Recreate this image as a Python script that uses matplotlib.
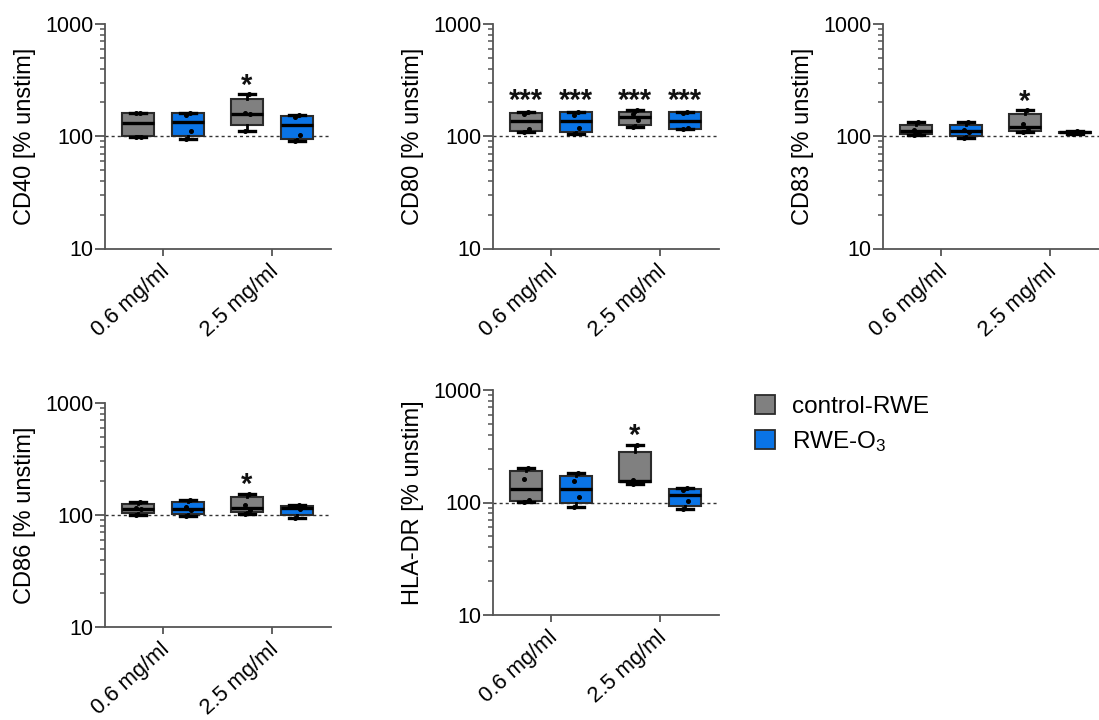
import matplotlib
matplotlib.use('Agg')
import matplotlib.pyplot as plt
import matplotlib.transforms as mtransforms
from matplotlib.patches import Patch
from matplotlib.ticker import FixedLocator, NullFormatter

plt.rcParams['font.family'] = ['Liberation Sans', 'DejaVu Sans']
plt.rcParams['mathtext.fontset'] = 'custom'
plt.rcParams['mathtext.rm'] = 'Liberation Sans'
plt.rcParams['mathtext.it'] = 'Liberation Sans:italic'

# ---------------- data ----------------
markers = ['CD40', 'CD80', 'CD83', 'CD86', 'HLA-DR']
doses = ['0.6 mg/ml', '2.5 mg/ml']
groups = ['control-RWE', 'RWE-O$_3$']
# box order in each panel: control 0.6, O3 0.6, control 2.5, O3 2.5
whis_lo = [[99, 94, 112, 90],
           [109, 104, 121, 115],
           [103, 96, 110, 105],
           [100, 97, 103, 95],
           [102, 92, 147, 88]]
q1 = [[100, 100, 126, 94],
      [111, 108, 127, 116],
      [105, 100, 112, 106],
      [104, 102, 106, 100],
      [104, 98, 151, 94]]
med = [[130, 135, 159, 127],
       [137, 137, 148, 137],
       [111, 111, 121, 108],
       [114, 114, 116, 116],
       [133, 133, 154, 116]]
q3 = [[160, 160, 215, 151],
      [160, 163, 166, 163],
      [127, 127, 157, 109],
      [126, 131, 144, 120],
      [190, 173, 280, 131]]
whis_hi = [[162, 161, 238, 154],
           [163, 166, 173, 166],
           [133, 133, 170, 111],
           [131, 137, 155, 122],
           [202, 184, 326, 135]]
points = [[[98, 99, 160, 162], [94, 112, 155, 161], [112, 158, 161, 238], [90, 103, 148, 154]],
          [[109, 115, 158, 163], [104, 119, 154, 166], [121, 139, 157, 173], [115, 119, 160, 166]],
          [[103, 108, 114, 133], [96, 109, 113, 133], [110, 114, 128, 170], [105, 107, 109, 111]],
          [[100, 112, 116, 131], [97, 110, 118, 137], [103, 110, 122, 155], [95, 113, 119, 122]],
          [[102, 106, 161, 202], [92, 111, 155, 184], [147, 152, 157, 326], [88, 104, 128, 135]]]
stars = [['', '', '*', ''],
         ['***', '***', '***', '***'],
         ['', '', '*', ''],
         ['', '', '*', ''],
         ['', '', '*', '']]

# ---------------- style / layout ----------------
W, H = 1099, 720
fig = plt.figure(figsize=(W / 100, H / 100), dpi=100)

colors = ['#808080', '#0A74E6']
edge = '#2b2b2b'
axis_col = '#555555'
ax_w_px = 225.7
# (left, top, bottom) in pixels
frames = [(105, 24, 248.5), (493, 24, 248.5), (883, 24, 248.5),
          (105, 402.7, 627.3), (493, 390, 615)]
positions = [0.66, 1.66, 2.84, 3.84]
xlim = (0, ax_w_px / 50.0)
minors = [m * 10 ** e for e in (1, 2) for m in range(2, 10)]

for i, name in enumerate(markers):
    l, t, b = frames[i]
    ax = fig.add_axes([l / W, 1 - b / H, ax_w_px / W, (b - t) / H])
    ax.set_yscale('log')
    ax.set_ylim(10, 1000)
    ax.set_xlim(*xlim)
    ax.axhline(100, color='#333333', lw=1.0, ls=(0, (2.2, 2.2)), zorder=0.5)

    stats = []
    for j in range(4):
        stats.append(dict(whislo=whis_lo[i][j], q1=q1[i][j], med=med[i][j],
                          q3=q3[i][j], whishi=whis_hi[i][j], fliers=[]))
    bp = ax.bxp(stats, positions=positions, widths=0.65, capwidths=0.33,
                patch_artist=True, showfliers=False, manage_ticks=False,
                boxprops=dict(linewidth=1.5, edgecolor=edge),
                medianprops=dict(color='black', linewidth=2.4),
                whiskerprops=dict(color='black', linewidth=2.0),
                capprops=dict(color='black', linewidth=2.4))
    for j, box in enumerate(bp['boxes']):
        box.set_facecolor(colors[j % 2])
        box.set_edgecolor(edge)
        box.set_zorder(2)
    for k in ('medians', 'whiskers', 'caps'):
        for ln in bp[k]:
            ln.set_zorder(3)

    offs = [-0.05, 0.05, -0.04, 0.04]
    for j in range(4):
        xs = [positions[j] + offs[n % 4] for n in range(len(points[i][j]))]
        ax.plot(xs, points[i][j], 'o', color='black', ms=2.6, zorder=4,
                linestyle='none')

    top = max(whis_hi[i][j] for j in range(4) if stars[i][j])
    for j in range(4):
        if stars[i][j]:
            ax.annotate(stars[i][j], xy=(positions[j], top), xytext=(0, 0.5),
                        textcoords='offset pixels', ha='center', va='baseline',
                        fontsize=21, fontweight='bold', color='#111111')

    for s in ('top', 'right'):
        ax.spines[s].set_visible(False)
    for s in ('left', 'bottom'):
        ax.spines[s].set_color(axis_col)
        ax.spines[s].set_linewidth(1.3)

    ax.yaxis.set_major_locator(FixedLocator([10, 100, 1000]))
    ax.set_yticklabels(['10', '100', '1000'])
    ax.yaxis.set_minor_locator(FixedLocator(minors))
    ax.yaxis.set_minor_formatter(NullFormatter())
    ax.tick_params(axis='y', which='major', length=7, width=1.3, color=axis_col,
                   labelsize=15.5, pad=1.5)
    ax.tick_params(axis='y', which='minor', length=3.5, width=1.1, color=axis_col)

    xt = [(positions[0] + positions[1]) / 2, (positions[2] + positions[3]) / 2]
    ax.set_xticks(xt)
    ax.set_xticklabels([])
    ax.tick_params(axis='x', which='major', length=5, width=1.3, color=axis_col)
    ax.tick_params(axis='x', which='minor', length=0)
    base = mtransforms.blended_transform_factory(ax.transData, ax.transAxes)
    shift = mtransforms.ScaledTranslation(-32 / 100, -52 / 100, fig.dpi_scale_trans)
    for xv, lab in zip(xt, doses):
        ax.text(xv, 0, lab, transform=base + shift, rotation=42,
                rotation_mode='anchor', ha='center', va='center',
                fontsize=15.8, clip_on=False)

    ax.set_ylabel(f'{name} [% unstim]', fontsize=17)
    ax.yaxis.set_label_coords((36 - 105) / ax_w_px, 0.5)

handles = [Patch(facecolor=colors[0], edgecolor=edge, linewidth=1.3),
           Patch(facecolor=colors[1], edgecolor=edge, linewidth=1.3)]
fig.legend(handles, groups, loc='upper left', bbox_to_anchor=(755 / W, 1 - 395 / H),
           frameon=False, fontsize=17.5, handlelength=0.82, handleheight=0.82,
           handletextpad=0.7, labelspacing=0.45, borderpad=0, borderaxespad=0)

fig.savefig('out.png', dpi=100)
